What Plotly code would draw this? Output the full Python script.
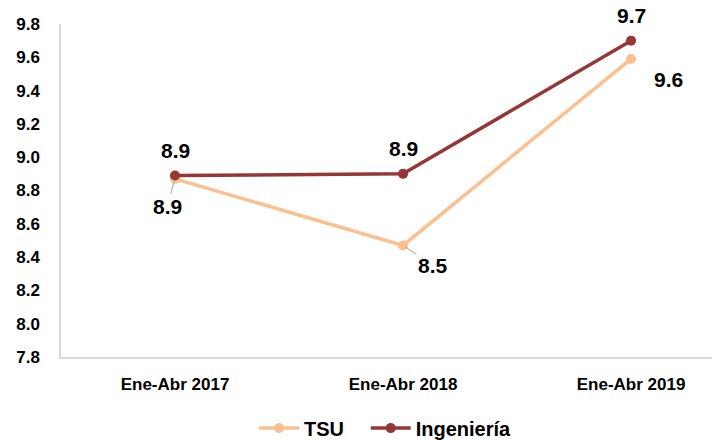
import plotly.graph_objects as go

categories = ["Ene-Abr 2017", "Ene-Abr 2018", "Ene-Abr 2019"]
tsu = [8.87, 8.47, 9.59]
ing = [8.89, 8.90, 9.70]
y_ticks = [7.8, 8.0, 8.2, 8.4, 8.6, 8.8, 9.0, 9.2, 9.4, 9.6, 9.8]

TSU_COLOR = "#FAC090"
ING_COLOR = "#953735"
FONT = "Liberation Sans"

fig = go.Figure()
fig.add_trace(go.Scatter(
    x=[0, 1, 2], y=tsu, mode="lines+markers", name="<b>TSU</b>   ",
    line=dict(color=TSU_COLOR, width=3.5),
    marker=dict(color=TSU_COLOR, size=10),
))
fig.add_trace(go.Scatter(
    x=[0, 1, 2], y=ing, mode="lines+markers", name="<b>Ingeniería</b>",
    line=dict(color=ING_COLOR, width=3.5),
    marker=dict(color=ING_COLOR, size=10),
))

lab_font = dict(family=FONT, size=21, color="#000000")
ann = []
# Ingeniería labels above points
for i, v in enumerate(ing):
    ann.append(dict(x=i, y=v, xref="x", yref="y", text=f"<b>{v:.1f}</b>",
                    showarrow=False, yshift=25, font=lab_font))
# TSU labels with leader lines
tsu_offsets = [(-8, 28, True), (30, 20, True), (37, 21, False)]
for i, (v, (dx, dy, arrow)) in enumerate(zip(tsu, tsu_offsets)):
    if arrow:
        ann.append(dict(x=i, y=v, xref="x", yref="y", text=f"<b>{v:.1f}</b>",
                        showarrow=True, arrowhead=0, arrowwidth=1,
                        arrowcolor="#A6A6A6", ax=dx, ay=dy, standoff=3,
                        font=lab_font))
    else:
        ann.append(dict(x=i, y=v, xref="x", yref="y", text=f"<b>{v:.1f}</b>",
                        showarrow=False, xshift=dx, yshift=-dy, font=lab_font))

fig.update_layout(
    width=714, height=440,
    margin=dict(l=61, r=2, t=24, b=83),
    paper_bgcolor="white", plot_bgcolor="white",
    font=dict(family=FONT, size=17, color="#000000"),
    showlegend=True,
    legend=dict(orientation="h", xref="container", x=0.54, xanchor="center",
                yref="container", y=0.027, yanchor="middle",
                font=dict(family=FONT, size=20, color="#000000"),
                itemwidth=40, tracegroupgap=0),
    annotations=ann,
    xaxis=dict(
        range=[-0.5, 2.355], tickmode="array", tickvals=[0, 1, 2],
        ticktext=[f"<b>{c}</b>" for c in categories],
        showgrid=False, zeroline=False, showline=True,
        linecolor="#D9D9D9", linewidth=1.5, ticks="",
        tickfont=dict(family=FONT, size=17, color="#000000"),
        ticklabelstandoff=11, automargin=False,
    ),
    yaxis=dict(
        range=[7.8, 9.8], tickmode="array", tickvals=y_ticks,
        ticktext=[f"<b>{t:.1f}</b>" for t in y_ticks],
        showgrid=False, zeroline=False, showline=True,
        linecolor="#D9D9D9", linewidth=1.5, ticks="",
        tickfont=dict(family=FONT, size=17, color="#000000"),
        ticklabelstandoff=16, automargin=False,
    ),
)

fig.write_html("out.html", config={"displayModeBar": False},
               post_script="document.body.style.margin='0';document.body.style.overflow='hidden';")
